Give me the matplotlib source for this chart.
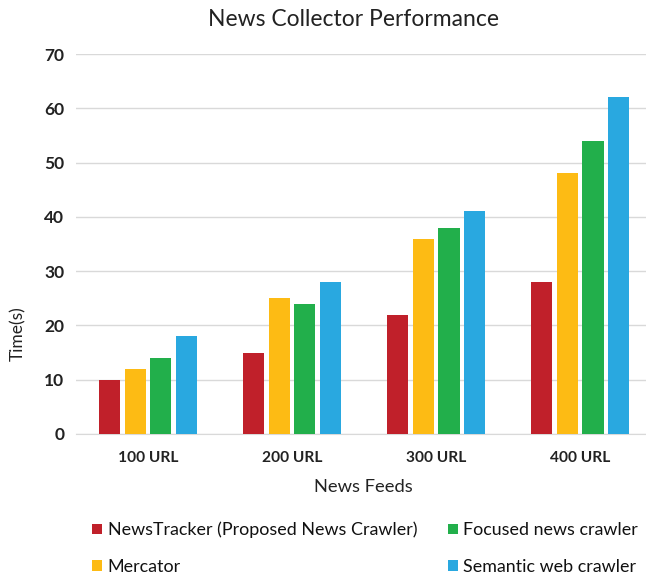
import matplotlib.pyplot as plt
import numpy as np

categories = ['100 URL', '200 URL', '300 URL', '400 URL']
series_names = ['NewsTracker (Proposed News Crawler)', 'Mercator',
                'Focused news crawler', 'Semantic web crawler']
newstracker = [10, 15, 22, 28]
mercator = [12, 25, 36, 48]
focused = [14, 24, 38, 54]
semantic = [18, 28, 41, 62]
colors = ['#C0202A', '#FDBB14', '#22AF4B', '#29A8E0']

plt.rcParams['font.family'] = ['Lato', 'DejaVu Sans']

fig = plt.figure(figsize=(6.46, 5.78), dpi=100)
# plot area: left edge at 76 px, runs off the right side of the picture
ax = fig.add_axes([76 / 646, 144 / 578, 570 / 646, 380 / 578])

x = np.arange(len(categories))
pitch = 0.18
width = 0.146
for i, vals in enumerate([newstracker, mercator, focused, semantic]):
    ax.bar(x + (i - 1.5) * pitch, vals, width, color=colors[i],
           label=series_names[i], zorder=3)

ax.set_xlim(-0.5, 3.458)
ax.set_ylim(0, 70)
ax.set_yticks(range(0, 71, 10))
ax.set_xticks(x)
ax.set_xticklabels(categories)
ax.grid(axis='y', color='#D9D9D9', linewidth=1.0, zorder=0)
for s in ['top', 'right', 'left']:
    ax.spines[s].set_visible(False)
ax.spines['bottom'].set_color('#D9D9D9')
ax.tick_params(length=0, colors='#222222')
ax.tick_params(axis='x', pad=12, labelsize=11.2)
ax.tick_params(axis='y', pad=8.5, labelsize=12.5)
for lab in ax.get_xticklabels() + ax.get_yticklabels():
    lab.set_fontweight('bold')

fig.text(353 / 646, 0.967, 'News Collector Performance', ha='center', va='center',
         fontsize=16.5, color='#222222')
fig.text(0.028, 0.422, 'Time(s)', rotation=90, ha='center', va='center',
         fontsize=12.5, color='#222222')
fig.text(0.563, 0.157, 'News Feeds', ha='center', va='center',
         fontsize=13.2, color='#222222')

handles, labels = ax.get_legend_handles_labels()
fig.legend(handles, labels, ncol=2, loc='center left', bbox_to_anchor=(0.118, 0.051),
           frameon=False, fontsize=12.9, handlelength=0.56, handleheight=0.56,
           handletextpad=0.3, columnspacing=1.7, labelspacing=1.17,
           labelcolor='#111111')

fig.savefig('out.png', dpi=100)
